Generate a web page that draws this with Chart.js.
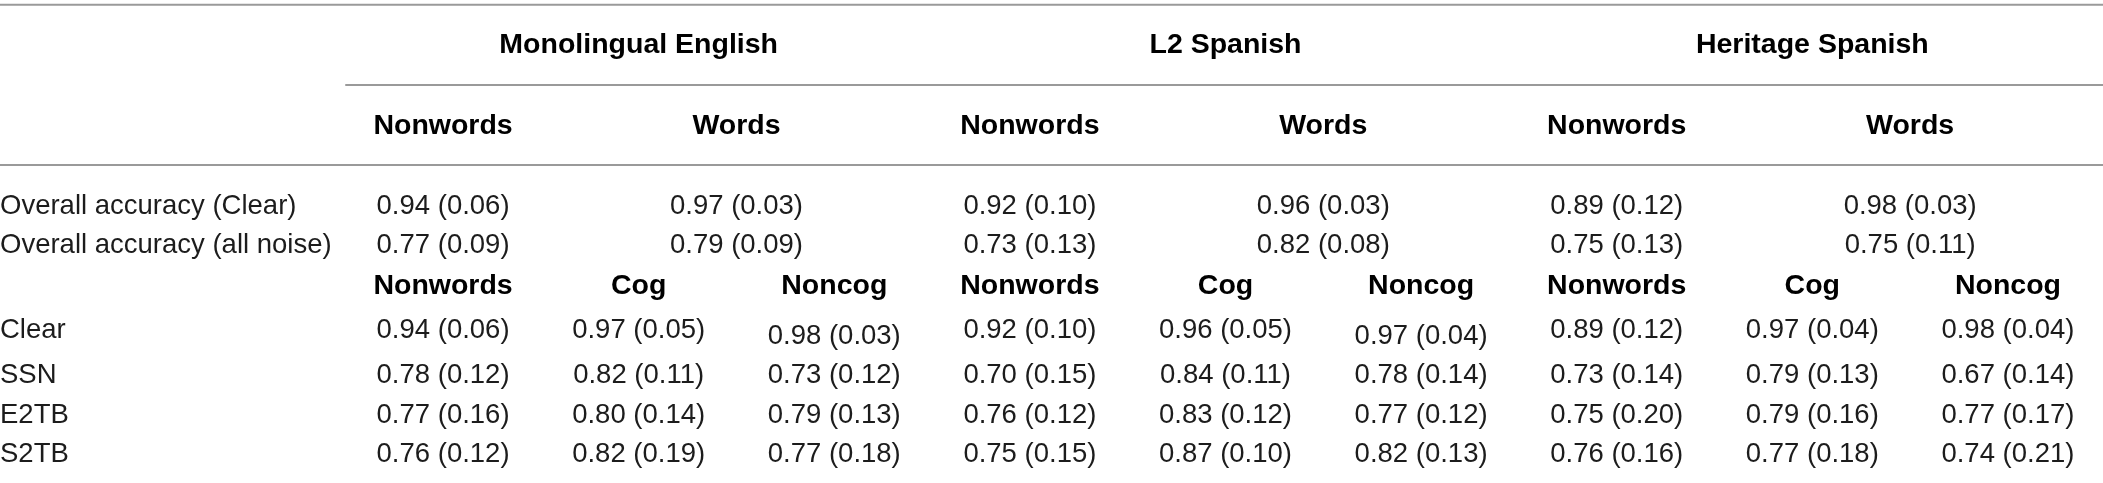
<!DOCTYPE html>
<html lang="en">
<head>
  <meta charset="UTF-8">
  <title>Accuracy by group, word type and noise condition</title>
  <script src="https://cdn.jsdelivr.net/npm/chart.js"></script>
  <style>
    body { margin: 0; background: #fff; }
    #wrap { width: 2103px; height: 483px; }
  </style>
</head>
<body>
  <div id="wrap">
    <canvas id="tableChart" width="2103" height="483"></canvas>
  </div>
  <script>
    // Table content
    const groups = ['Monolingual English', 'L2 Spanish', 'Heritage Spanish'];
    const topHeads = ['Nonwords', 'Words'];
    const subHeads = ['Nonwords', 'Cog', 'Noncog'];
    const overallLabels = ['Overall accuracy (Clear)', 'Overall accuracy (all noise)'];
    const conditions = ['Clear', 'SSN', 'E2TB', 'S2TB'];

    // Overall accuracy, one value per group: mean and SD
    const ovClearNonMean = [0.94, 0.92, 0.89];
    const ovClearNonSD   = [0.06, 0.10, 0.12];
    const ovClearWordMean = [0.97, 0.96, 0.98];
    const ovClearWordSD   = [0.03, 0.03, 0.03];
    const ovNoiseNonMean = [0.77, 0.73, 0.75];
    const ovNoiseNonSD   = [0.09, 0.13, 0.13];
    const ovNoiseWordMean = [0.79, 0.82, 0.75];
    const ovNoiseWordSD   = [0.09, 0.08, 0.11];

    // Per condition: Nonwords, Cog, Noncog for each of the three groups
    const clearMean = [0.94, 0.97, 0.98, 0.92, 0.96, 0.97, 0.89, 0.97, 0.98];
    const clearSD   = [0.06, 0.05, 0.03, 0.10, 0.05, 0.04, 0.12, 0.04, 0.04];
    const ssnMean = [0.78, 0.82, 0.73, 0.70, 0.84, 0.78, 0.73, 0.79, 0.67];
    const ssnSD   = [0.12, 0.11, 0.12, 0.15, 0.11, 0.14, 0.14, 0.13, 0.14];
    const e2tbMean = [0.77, 0.80, 0.79, 0.76, 0.83, 0.77, 0.75, 0.79, 0.77];
    const e2tbSD   = [0.16, 0.14, 0.13, 0.12, 0.12, 0.12, 0.20, 0.16, 0.17];
    const s2tbMean = [0.76, 0.82, 0.77, 0.75, 0.87, 0.82, 0.76, 0.77, 0.74];
    const s2tbSD   = [0.12, 0.19, 0.18, 0.15, 0.10, 0.13, 0.16, 0.18, 0.21];

    // Layout: row slots on the y axis (top = 0), columns 1..9 on the x axis
    const slot = {
      topRule: 0.12, groupHead: 1.12, groupRule: 2.11, topHead: 3.13, headRule: 4.1,
      ovClear: 5.14, ovNoise: 6.09, subHead: 7.1, cond: [8.2, 9.32, 10.31, 11.28]
    };
    // in the source, two Noncog cells of the Clear row sit a little lower
    const clearRowDrop = { 3: 0.15, 6: 0.15 };
    const X_MIN = -1.265, X_MAX = 9.486;

    const fmt = (m, s) => m.toFixed(2) + ' (' + s.toFixed(2) + ')';

    // Build text cells
    const cells = [];
    const addCell = (x, y, text, bold, align) => cells.push({ x, y, text, bold: !!bold, align: align || 'center' });

    groups.forEach((g, gi) => {
      const c0 = 1 + gi * 3;
      addCell(c0 + 1, slot.groupHead, g, true);
      addCell(c0, slot.topHead, topHeads[0], true);
      addCell(c0 + 1.5, slot.topHead, topHeads[1], true);
      addCell(c0, slot.ovClear, fmt(ovClearNonMean[gi], ovClearNonSD[gi]));
      addCell(c0 + 1.5, slot.ovClear, fmt(ovClearWordMean[gi], ovClearWordSD[gi]));
      addCell(c0, slot.ovNoise, fmt(ovNoiseNonMean[gi], ovNoiseNonSD[gi]));
      addCell(c0 + 1.5, slot.ovNoise, fmt(ovNoiseWordMean[gi], ovNoiseWordSD[gi]));
      subHeads.forEach((h, hi) => addCell(c0 + hi, slot.subHead, h, true));
    });
    addCell(X_MIN, slot.ovClear, overallLabels[0], false, 'left');
    addCell(X_MIN, slot.ovNoise, overallLabels[1], false, 'left');

    const condMeans = [clearMean, ssnMean, e2tbMean, s2tbMean];
    const condSDs = [clearSD, ssnSD, e2tbSD, s2tbSD];
    conditions.forEach((cond, ri) => {
      addCell(X_MIN, slot.cond[ri], cond, false, 'left');
      condMeans[ri].forEach((m, ci) => {
        const drop = ri === 0 ? (clearRowDrop[ci + 1] || 0) : 0;
        addCell(ci + 1, slot.cond[ri] + drop, fmt(m, condSDs[ri][ci]));
      });
    });

    // Horizontal rules as line datasets
    const rule = (x0, y) => ({
      type: 'line',
      data: [{ x: x0, y: y }, { x: X_MAX, y: y }],
      borderColor: '#9a9a9a',
      borderWidth: 2,
      pointRadius: 0,
      clip: false
    });

    const textPlugin = {
      id: 'cellText',
      afterDatasetsDraw(chart) {
        const ctx = chart.ctx;
        const meta = chart.getDatasetMeta(0);
        ctx.save();
        ctx.textBaseline = 'middle';
        meta.data.forEach((pt, i) => {
          const c = cells[i];
          ctx.font = c.bold ? 'bold 28.5px "Liberation Sans", Arial, sans-serif'
                            : '27.5px "Liberation Sans", Arial, sans-serif';
          ctx.fillStyle = c.bold ? '#000' : '#1c1c1c';
          ctx.textAlign = c.align;
          ctx.fillText(c.text, pt.x, pt.y);
        });
        ctx.restore();
      }
    };

    new Chart(document.getElementById('tableChart'), {
      type: 'scatter',
      data: {
        datasets: [
          { data: cells.map(c => ({ x: c.x, y: c.y })), pointRadius: 0, clip: false },
          rule(X_MIN, slot.topRule),
          rule(0.5, slot.groupRule),
          rule(X_MIN, slot.headRule)
        ]
      },
      options: {
        responsive: false,
        animation: false,
        events: [],
        layout: { padding: 0 },
        plugins: { legend: { display: false }, tooltip: { enabled: false } },
        scales: {
          x: { type: 'linear', display: false, min: X_MIN, max: X_MAX },
          y: { type: 'linear', display: false, min: 0, max: 12, reverse: true }
        }
      },
      plugins: [textPlugin]
    });
  </script>
</body>
</html>
